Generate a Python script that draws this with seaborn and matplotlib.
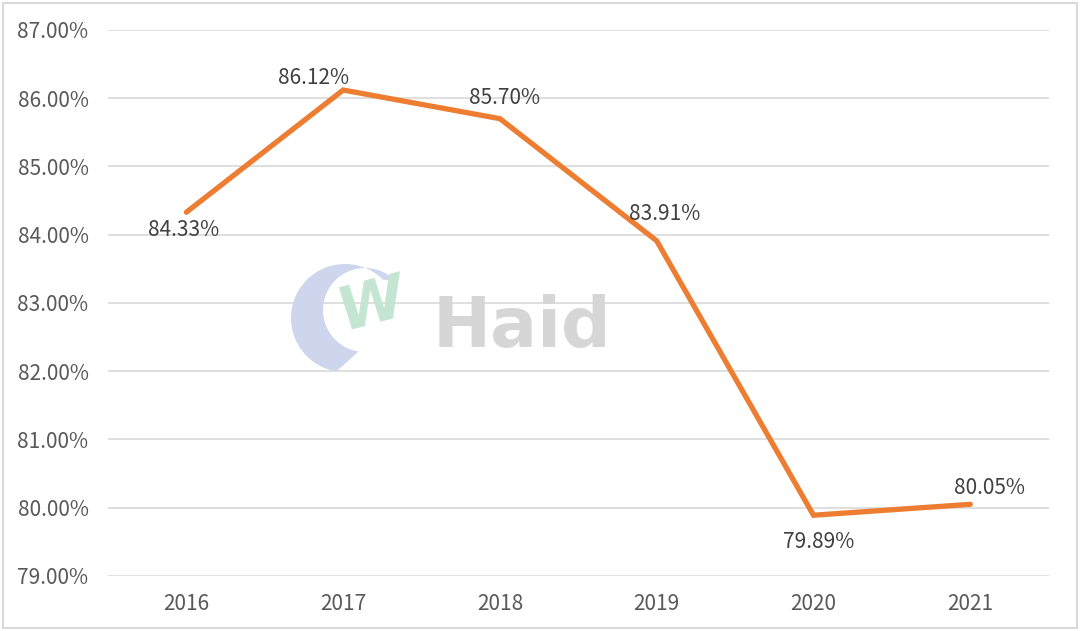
import numpy as np
import pandas as pd
import matplotlib
matplotlib.use("Agg")
import matplotlib.pyplot as plt
from matplotlib.patches import Polygon
from matplotlib.ticker import FuncFormatter, MultipleLocator
import seaborn as sns

years = ["2016", "2017", "2018", "2019", "2020", "2021"]
ratio = [84.33, 86.12, 85.70, 83.91, 79.89, 80.05]
value_labels = ["84.33%", "86.12%", "85.70%", "83.91%", "79.89%", "80.05%"]

# label offsets in points (dx, dy) relative to each point
label_offsets = [(-2, -13), (-21, 9), (3, 15), (6, 19), (4, -19), (14, 12)]

sns.set_theme(style="white")
plt.rcParams['font.family'] = ['Noto Sans CJK SC', 'DejaVu Sans']

text_color = "#595959"
line_color = "#ED7D31"

df = pd.DataFrame({"year": years, "ratio": ratio})

fig = plt.figure(figsize=(10.8, 6.31), dpi=100)
ax = fig.add_axes([0.1, 0.0872, 0.871, 0.8653])

# watermark (crescent + mark + text), drawn in figure coords behind the plot
t = np.linspace(0.55 * np.pi, 1.75 * np.pi, 80)
outer = np.c_[345 + 54 * np.cos(t), 318 + 54 * np.sin(t)]
inner = np.c_[365 + 42 * np.cos(t[::-1]), 310 + 42 * np.sin(t[::-1])]
pts = np.vstack([outer, inner])
pts[:, 0] /= 1080
pts[:, 1] = 1 - pts[:, 1] / 631
fig.patches.append(Polygon(pts, closed=True, transform=fig.transFigure,
                           facecolor="#CDD6EC", edgecolor="none", zorder=0))
fig.text(372 / 1080, 1 - 305 / 631, "W", fontsize=44, color="#C3E5D2",
         style="italic", fontweight="bold", family="DejaVu Sans",
         ha="center", va="center", rotation=15, zorder=0)
fig.text(522 / 1080, 1 - 327 / 631, "Haid", fontsize=50, color="#D6D6D6",
         fontweight="bold", family="DejaVu Sans", ha="center", va="center",
         zorder=0)
ax.set_facecolor("none")

sns.lineplot(data=df, x="year", y="ratio", ax=ax, color=line_color,
             linewidth=3.8, sort=False, zorder=3)
ax.lines[0].set_solid_capstyle("round")
ax.lines[0].set_solid_joinstyle("miter")

for i, (lab, off) in enumerate(zip(value_labels, label_offsets)):
    ax.annotate(lab, (i, ratio[i]), xytext=off, textcoords="offset points",
                ha="center", va="center", fontsize=15, color="#404040",
                fontweight="medium")

ax.set_xlim(-0.5, len(years) - 0.5)
ax.set_ylim(79, 87)
ax.yaxis.set_major_locator(MultipleLocator(1))
ax.yaxis.set_major_formatter(FuncFormatter(lambda v, p: f"{v:.2f}%"))
ax.grid(axis="y", color="#D9D9D9", linewidth=1.2)
ax.grid(axis="x", visible=False)
for s in ax.spines.values():
    s.set_visible(False)
ax.tick_params(axis="both", length=0, labelsize=15, colors=text_color)
for lbl in ax.get_xticklabels() + ax.get_yticklabels():
    lbl.set_fontweight("medium")
ax.tick_params(axis="y", pad=14)
ax.tick_params(axis="x", pad=12)
ax.set_xlabel("")
ax.set_ylabel("")

# outer frame
fig.patches.append(plt.Rectangle((0.003, 0.004), 0.994, 0.991,
                                 transform=fig.transFigure, fill=False,
                                 edgecolor="#D9D9D9", linewidth=1.5))

fig.savefig("out.png", dpi=100)
